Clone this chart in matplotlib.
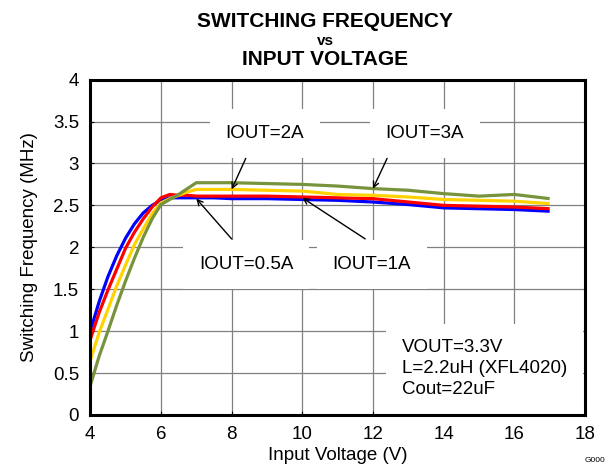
"""Switching frequency vs input voltage, for four load currents."""

import matplotlib

matplotlib.use("Agg")

import matplotlib.pyplot as plt
from matplotlib.ticker import FuncFormatter, MultipleLocator

plt.rcParams["font.family"] = ["Liberation Sans", "DejaVu Sans"]

# Input voltage (V), shared by all curves
vin = [4.0, 4.25, 4.5, 4.75, 5.0, 5.25, 5.5, 5.75, 6.0, 6.25, 6.5, 6.75,
       7.0, 7.5, 8, 9, 10, 11, 12, 13, 14, 15, 16, 17]

# Switching frequency (MHz) per load current
freq_05a = [1.00, 1.35, 1.65, 1.90, 2.11, 2.28, 2.41, 2.50, 2.56, 2.59, 2.59, 2.59,
            2.59, 2.59, 2.58, 2.58, 2.57, 2.56, 2.54, 2.51, 2.47, 2.46, 2.45, 2.43]
freq_1a = [0.90, 1.22, 1.49, 1.74, 1.99, 2.18, 2.34, 2.48, 2.59, 2.63, 2.62, 2.62,
           2.61, 2.61, 2.61, 2.61, 2.60, 2.59, 2.58, 2.54, 2.50, 2.49, 2.48, 2.46]
freq_2a = [0.65, 0.98, 1.26, 1.54, 1.79, 2.03, 2.22, 2.40, 2.53, 2.58, 2.62, 2.66,
           2.69, 2.69, 2.69, 2.68, 2.67, 2.63, 2.62, 2.60, 2.57, 2.56, 2.55, 2.52]
freq_3a = [0.35, 0.70, 1.00, 1.31, 1.60, 1.87, 2.12, 2.34, 2.51, 2.57, 2.63, 2.70,
           2.77, 2.77, 2.77, 2.76, 2.75, 2.73, 2.70, 2.68, 2.64, 2.61, 2.63, 2.58]

series = [
    (freq_05a, "#0000FF"),
    (freq_1a, "#FF0000"),
    (freq_2a, "#FFD200"),
    (freq_3a, "#77933C"),
]

# label, text centre (x, y), arrow tail (x, y), arrow head (x, y)
callouts = [
    ("IOUT=2A", (8.94, 3.36), (8.40, 3.06), (8.0, 2.69)),
    ("IOUT=3A", (13.47, 3.36), (12.40, 3.06), (12.0, 2.70)),
    ("IOUT=0.5A", (8.41, 1.79), (8.0, 2.10), (7.0, 2.58)),
    ("IOUT=1A", (11.97, 1.79), (11.78, 2.10), (10.0, 2.59)),
]

conditions = "VOUT=3.3V\nL=2.2uH (XFL4020)\nCout=22uF"

FONT = 13.5

fig = plt.figure(figsize=(6.1, 4.71), dpi=100)
ax = fig.add_axes([0.148, 0.119, 0.811, 0.712])

for values, color in series:
    ax.plot(vin, values, color=color, lw=2.3, solid_capstyle="butt", zorder=2)

ax.set_xlim(4, 18)
ax.set_ylim(0, 4)
ax.xaxis.set_major_locator(MultipleLocator(2))
ax.yaxis.set_major_locator(MultipleLocator(0.5))
ax.yaxis.set_major_formatter(FuncFormatter(lambda v, _: f"{v:g}"))
ax.set_axisbelow(True)
ax.grid(True, color="#808080", lw=0.9)
ax.tick_params(direction="in", length=3, width=0.8, labelsize=FONT, pad=8)

for spine in ax.spines.values():
    spine.set_linewidth(2.2)
    spine.set_zorder(5)

ax.set_xlabel("Input Voltage (V)", fontsize=FONT)
ax.set_ylabel("Switching Frequency (MHz)", fontsize=FONT)
ax.xaxis.set_label_coords(0.5, -0.095)
ax.yaxis.set_label_coords(-0.106, 0.50)

box = dict(boxstyle="square,pad=0.85", fc="white", ec="none")
for label, spot, tail, head in callouts:
    ax.text(*spot, label, ha="center", va="center", fontsize=FONT,
            bbox=box, zorder=3)
    ax.annotate("", xy=head, xytext=tail, zorder=4,
                arrowprops=dict(arrowstyle="->", color="black", lw=1,
                                shrinkA=0, shrinkB=0))

ax.text(12.81, 0.55, conditions, ha="left", va="center", fontsize=FONT,
        linespacing=1.3, bbox=box, zorder=3)

fig.text(0.533, 0.943, "SWITCHING FREQUENCY", ha="center", va="baseline",
         fontsize=15, fontweight="bold")
fig.text(0.533, 0.904, "vs", ha="center", va="baseline",
         fontsize=11, fontweight="bold")
fig.text(0.533, 0.861, "INPUT VOLTAGE", ha="center", va="baseline",
         fontsize=15, fontweight="bold")
fig.text(0.992, 0.019, "G000", ha="right", va="baseline", fontsize=6)

fig.savefig("out.png", dpi=100)
